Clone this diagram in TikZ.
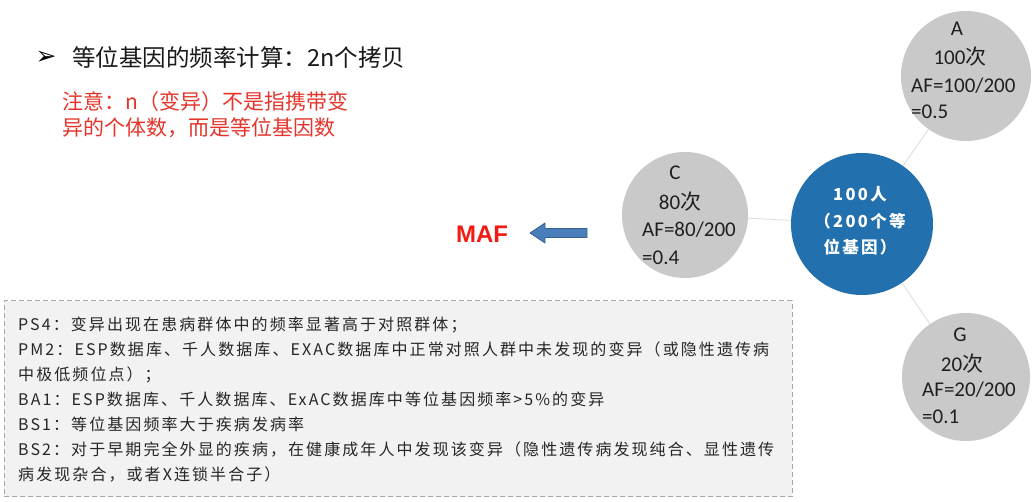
\documentclass[tikz,border=0pt]{standalone}
\usepackage{fontspec}
\setmainfont{Noto Sans CJK SC}
\newfontfamily\cjk{Noto Sans CJK SC}
\newfontfamily\cjkwide[LetterSpace=14]{Noto Sans CJK SC}
\newfontfamily\boxfont[LetterSpace=13]{Noto Sans CJK SC}
\newfontfamily\calib{Carlito}
\newfontfamily\dejavu{DejaVu Sans}
\newfontfamily\arial{Liberation Sans}
\definecolor{circgray}{HTML}{C9C9C9}
\definecolor{hubblue}{HTML}{2270AE}
\definecolor{notered}{HTML}{E5352B}
\definecolor{mafred}{HTML}{F21B13}
\definecolor{arrowfill}{HTML}{4A7EBB}
\definecolor{arrowline}{HTML}{35608F}
\definecolor{boxfill}{HTML}{F2F2F2}
\definecolor{boxline}{HTML}{A8A8A8}
\definecolor{linkgray}{HTML}{DCDCDC}
\definecolor{swirl}{HTML}{F8F8F8}
\tikzset{
  allele/.style={circle, fill=circgray, inner sep=0pt},
  hub/.style={circle, fill=hubblue, inner sep=0pt},
  ctext/.style={inner sep=0pt, font=\fontsize{21}{24}\calib, text=black!88},
  link/.style={draw=linkgray, line width=0.8pt},
}
\newcommand{\ci}{{\cjk 次}}
\begin{document}
\begin{tikzpicture}[x=1pt, y=-1pt]
\useasboundingbox (0,0) rectangle (1034,502);
\fill[white] (0,0) rectangle (1034,502);

% faint decorative swirl in the background
\draw[swirl, line width=14pt] (870,520) arc[start angle=200, end angle=120, radius=170];

% heading and note
\node[inner sep=0pt, font=\fontsize{25}{26}\dejavu\bfseries] (bullet) at (46,58) {➢};
\node[inner sep=0pt, anchor=west, font=\fontsize{23.5}{26}\cjk, text=black!90] (title) at (72,58) {等位基因的频率计算：2n个拷贝};
\node[inner sep=0pt, anchor=west, align=left, font=\fontsize{21}{26}\cjk, text=notered] (note) at (62,115)
  {注意：n（变异）不是指携带变\\异的个体数，而是等位基因数};

% allele circles and the central population circle
\node[allele, minimum size=126pt] (C) at (685,215) {};
\node[hub, minimum size=142pt] (hub) at (862,224) {};
\node[allele, minimum size=130pt] (A) at (966,76) {};
\node[allele, minimum size=128pt] (G) at (966,377) {};

\draw[link] (C) -- (hub);
\draw[link] (hub) -- (A);
\draw[link] (hub) -- (G);

% texts in the circles
\node[ctext] (Cname) at (675,173) {C};
\node[ctext] (Ccount) at (680,202) {80\ci};
\node[ctext, anchor=west] (Caf) at (642,230) {AF=80/200};
\node[ctext, anchor=west] (Cval) at (642,258) {=0.4};

\node[ctext] (Aname) at (957,29) {A};
\node[ctext] (Acount) at (960,57) {100\ci};
\node[ctext, anchor=west] (Aaf) at (911,86) {AF=100/200};
\node[ctext, anchor=west] (Aval) at (911,112) {=0.5};

\node[ctext] (Gname) at (960,335) {G};
\node[ctext] (Gcount) at (962,364) {20\ci};
\node[ctext, anchor=west] (Gaf) at (922,390) {AF=20/200};
\node[ctext, anchor=west] (Gval) at (922,417) {=0.1};

\node[inner sep=0pt, align=center, text=white, font=\fontsize{16.5}{26.5}\cjkwide\bfseries] (hubtext) at (860,221)
  {100人\\（200个等\\位基因）};

% MAF label and the arrow pointing to it
\node[inner sep=0pt, font=\fontsize{24}{26}\arial\bfseries, text=mafred] (maf) at (482,234) {MAF};
\coordinate (tip) at (530,233);
\draw[fill=arrowfill, draw=arrowline, line width=0.8pt, line join=round]
  (tip) -- ++(15,-10) -- ++(0,5.5) -- (587,228.5) -- (587,237.5) -- (545,237.5) -- (545,243) -- cycle;

% criteria box
\node[draw=boxline, fill=boxfill, dashed, dash pattern=on 5pt off 3pt, line width=1pt,
      minimum width=788pt, minimum height=196pt, inner sep=0pt] (box) at (398,399) {};
\node[inner sep=0pt, anchor=west, align=left, font=\fontsize{16}{25}\boxfont, text=black!85] (crit) at (18,400)
  {PS4：变异出现在患病群体中的频率显著高于对照群体；\\
   PM2：ESP数据库、千人数据库、EXAC数据库中正常对照人群中未发现的变异（或隐性遗传病\\
   中极低频位点）；\\
   BA1：ESP数据库、千人数据库、ExAC数据库中等位基因频率>5\%的变异\\
   BS1：等位基因频率大于疾病发病率\\
   BS2：对于早期完全外显的疾病，在健康成年人中发现该变异（隐性遗传病发现纯合、显性遗传\\
   病发现杂合，或者X连锁半合子）};
\end{tikzpicture}
\end{document}
